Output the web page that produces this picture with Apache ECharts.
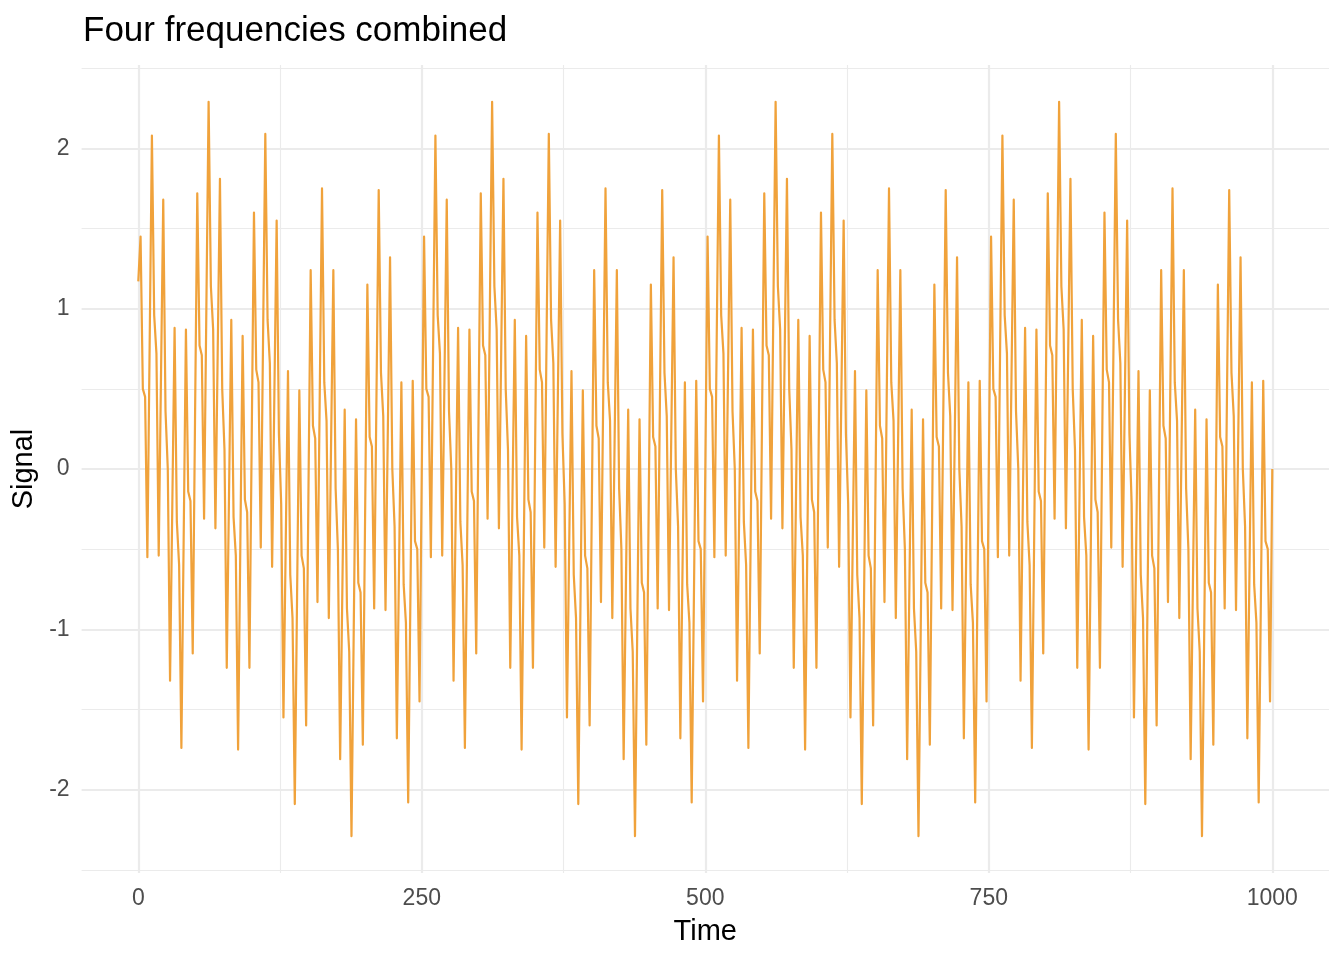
<!DOCTYPE html>
<html>
<head>
<meta charset="utf-8">
<title>Four frequencies combined</title>
<script src="https://cdn.jsdelivr.net/npm/echarts@6/dist/echarts.min.js"></script>
<style>
    html, body { margin: 0; padding: 0; background: #ffffff; }
    #chart { width: 1344px; height: 960px; }
</style>
</head>
<body>
<div id="chart"></div>
<script>
const timeStep = 2;

// time 0 - 248
const signalPart1 = [
    1.17, 1.45, 0.50, 0.45, -0.55, 0.77, 2.08, 0.96, 0.72, -0.54,
    0.57, 1.68, 0.36, 0.00, -1.32, -0.22, 0.88, -0.33, -0.60, -1.74,
    -0.44, 0.87, -0.14, -0.20, -1.15, 0.29, 1.72, 0.77, 0.71, -0.31,
    0.99, 2.29, 1.14, 0.87, -0.37, 0.72, 1.81, 0.50, 0.12, -1.24,
    -0.16, 0.93, -0.30, -0.54, -1.75, -0.46, 0.83, -0.19, -0.27, -1.24,
    0.18, 1.60, 0.62, 0.54, -0.49, 0.80, 2.09, 0.93, 0.66, -0.61,
    0.47, 1.55, 0.22, -0.22, -1.55, -0.47, 0.61, -0.66, -0.93, -2.09,
    -0.80, 0.49, -0.54, -0.62, -1.60, -0.18, 1.24, 0.27, 0.19, -0.83,
    0.46, 1.75, 0.54, 0.30, -0.93, 0.16, 1.24, -0.12, -0.50, -1.81,
    -0.72, 0.37, -0.87, -1.14, -2.29, -0.99, 0.31, -0.71, -0.77, -1.72,
    -0.29, 1.15, 0.20, 0.14, -0.87, 0.44, 1.74, 0.60, 0.33, -0.88,
    0.22, 1.32, 0.00, -0.36, -1.68, -0.57, 0.54, -0.72, -0.96, -2.08,
    -0.77, 0.55, -0.45, -0.50, -1.45
];

// time 250 - 498
const signalPart2 = [
    0.00, 1.45, 0.50, 0.45, -0.55, 0.77, 2.08, 0.96, 0.72, -0.54,
    0.57, 1.68, 0.36, 0.00, -1.32, -0.22, 0.88, -0.33, -0.60, -1.74,
    -0.44, 0.87, -0.14, -0.20, -1.15, 0.29, 1.72, 0.77, 0.71, -0.31,
    0.99, 2.29, 1.14, 0.87, -0.37, 0.72, 1.81, 0.50, 0.12, -1.24,
    -0.16, 0.93, -0.30, -0.54, -1.75, -0.46, 0.83, -0.19, -0.27, -1.24,
    0.18, 1.60, 0.62, 0.54, -0.49, 0.80, 2.09, 0.93, 0.66, -0.61,
    0.47, 1.55, 0.22, -0.22, -1.55, -0.47, 0.61, -0.66, -0.93, -2.09,
    -0.80, 0.49, -0.54, -0.62, -1.60, -0.18, 1.24, 0.27, 0.19, -0.83,
    0.46, 1.75, 0.54, 0.30, -0.93, 0.16, 1.24, -0.12, -0.50, -1.81,
    -0.72, 0.37, -0.87, -1.14, -2.29, -0.99, 0.31, -0.71, -0.77, -1.72,
    -0.29, 1.15, 0.20, 0.14, -0.87, 0.44, 1.74, 0.60, 0.33, -0.88,
    0.22, 1.32, 0.00, -0.36, -1.68, -0.57, 0.54, -0.72, -0.96, -2.08,
    -0.77, 0.55, -0.45, -0.50, -1.45
];

// time 500 - 748
const signalPart3 = [
    0.00, 1.45, 0.50, 0.45, -0.55, 0.77, 2.08, 0.96, 0.72, -0.54,
    0.57, 1.68, 0.36, 0.00, -1.32, -0.22, 0.88, -0.33, -0.60, -1.74,
    -0.44, 0.87, -0.14, -0.20, -1.15, 0.29, 1.72, 0.77, 0.71, -0.31,
    0.99, 2.29, 1.14, 0.87, -0.37, 0.72, 1.81, 0.50, 0.12, -1.24,
    -0.16, 0.93, -0.30, -0.54, -1.75, -0.46, 0.83, -0.19, -0.27, -1.24,
    0.18, 1.60, 0.62, 0.54, -0.49, 0.80, 2.09, 0.93, 0.66, -0.61,
    0.47, 1.55, 0.22, -0.22, -1.55, -0.47, 0.61, -0.66, -0.93, -2.09,
    -0.80, 0.49, -0.54, -0.62, -1.60, -0.18, 1.24, 0.27, 0.19, -0.83,
    0.46, 1.75, 0.54, 0.30, -0.93, 0.16, 1.24, -0.12, -0.50, -1.81,
    -0.72, 0.37, -0.87, -1.14, -2.29, -0.99, 0.31, -0.71, -0.77, -1.72,
    -0.29, 1.15, 0.20, 0.14, -0.87, 0.44, 1.74, 0.60, 0.33, -0.88,
    0.22, 1.32, 0.00, -0.36, -1.68, -0.57, 0.54, -0.72, -0.96, -2.08,
    -0.77, 0.55, -0.45, -0.50, -1.45
];

// time 750 - 1000
const signalPart4 = [
    0.00, 1.45, 0.50, 0.45, -0.55, 0.77, 2.08, 0.96, 0.72, -0.54,
    0.57, 1.68, 0.36, 0.00, -1.32, -0.22, 0.88, -0.33, -0.60, -1.74,
    -0.44, 0.87, -0.14, -0.20, -1.15, 0.29, 1.72, 0.77, 0.71, -0.31,
    0.99, 2.29, 1.14, 0.87, -0.37, 0.72, 1.81, 0.50, 0.12, -1.24,
    -0.16, 0.93, -0.30, -0.54, -1.75, -0.46, 0.83, -0.19, -0.27, -1.24,
    0.18, 1.60, 0.62, 0.54, -0.49, 0.80, 2.09, 0.93, 0.66, -0.61,
    0.47, 1.55, 0.22, -0.22, -1.55, -0.47, 0.61, -0.66, -0.93, -2.09,
    -0.80, 0.49, -0.54, -0.62, -1.60, -0.18, 1.24, 0.27, 0.19, -0.83,
    0.46, 1.75, 0.54, 0.30, -0.93, 0.16, 1.24, -0.12, -0.50, -1.81,
    -0.72, 0.37, -0.87, -1.14, -2.29, -0.99, 0.31, -0.71, -0.77, -1.72,
    -0.29, 1.15, 0.20, 0.14, -0.87, 0.44, 1.74, 0.60, 0.33, -0.88,
    0.22, 1.32, 0.00, -0.36, -1.68, -0.57, 0.54, -0.72, -0.96, -2.08,
    -0.77, 0.55, -0.45, -0.50, -1.45, 0.00
];

const xMajorTicks = [0, 250, 500, 750, 1000];
const xMinorTicks = [125, 375, 625, 875];
const yMajorTicks = [-2, -1, 0, 1, 2];
const yMinorTicks = [-2.5, -1.5, -0.5, 0.5, 1.5, 2.5];

function buildPoints() {
    let all = signalPart1.concat(signalPart2, signalPart3, signalPart4);
    let points = [];
    for (let i = 0; i < all.length; i++) {
        points.push([i * timeStep, all[i]]);
    }
    return points;
}

let fontName = '"Liberation Sans", Arial, Helvetica, sans-serif';
let gridColor = '#EBEBEB';

function xAxisFor(ticks, major) {
    return {
        type: 'value',
        position: 'bottom',
        offset: 0,
        min: -50,
        max: 1050,
        axisLine: {show: false},
        axisTick: {show: false, customValues: ticks},
        axisLabel: {
            show: major,
            customValues: ticks,
            formatter: function (value) {
                return String(value);
            },
            color: '#4D4D4D',
            fontSize: 23,
            fontFamily: fontName,
            margin: 14
        },
        splitLine: {
            show: true,
            lineStyle: {color: gridColor, width: major ? 2.2 : 1.1}
        },
        name: major ? 'Time' : '',
        nameLocation: 'middle',
        nameGap: 44,
        nameTextStyle: {color: '#000000', fontSize: 29, fontFamily: fontName}
    };
}

function yAxisFor(ticks, major) {
    return {
        type: 'value',
        position: 'left',
        offset: 0,
        min: -2.52,
        max: 2.52,
        axisLine: {show: false},
        axisTick: {show: false, customValues: ticks},
        axisLabel: {
            show: major,
            customValues: ticks,
            formatter: function (value) {
                return String(value);
            },
            color: '#4D4D4D',
            fontSize: 23,
            fontFamily: fontName,
            margin: 12
        },
        splitLine: {
            show: true,
            lineStyle: {color: gridColor, width: major ? 2.2 : 1.1}
        },
        name: major ? 'Signal' : '',
        nameLocation: 'middle',
        nameGap: 37,
        nameTextStyle: {color: '#000000', fontSize: 29, fontFamily: fontName}
    };
}

let chart = echarts.init(document.getElementById('chart'));

let option = {
    backgroundColor: '#ffffff',
    animation: false,
    title: {
        text: 'Four frequencies combined',
        left: 83,
        top: 14,
        padding: 0,
        textStyle: {
            color: '#000000',
            fontSize: 35,
            fontWeight: 'normal',
            fontFamily: fontName
        }
    },
    grid: {
        left: 81.6,
        right: 1344 - 1329,
        top: 65,
        bottom: 960 - 873,
        containLabel: false,
        outerBoundsMode: 'none'
    },
    xAxis: [
        xAxisFor(xMinorTicks, false),
        xAxisFor(xMajorTicks, true)
    ],
    yAxis: [
        yAxisFor(yMinorTicks, false),
        yAxisFor(yMajorTicks, true)
    ],
    series: [
        {
            name: 'Signal',
            type: 'line',
            xAxisIndex: 1,
            yAxisIndex: 1,
            data: buildPoints(),
            showSymbol: false,
            symbol: 'none',
            lineStyle: {
                color: '#F0A23B',
                width: 2.2,
                join: 'round',
                cap: 'butt'
            }
        }
    ]
};

chart.setOption(option);
</script>
</body>
</html>
